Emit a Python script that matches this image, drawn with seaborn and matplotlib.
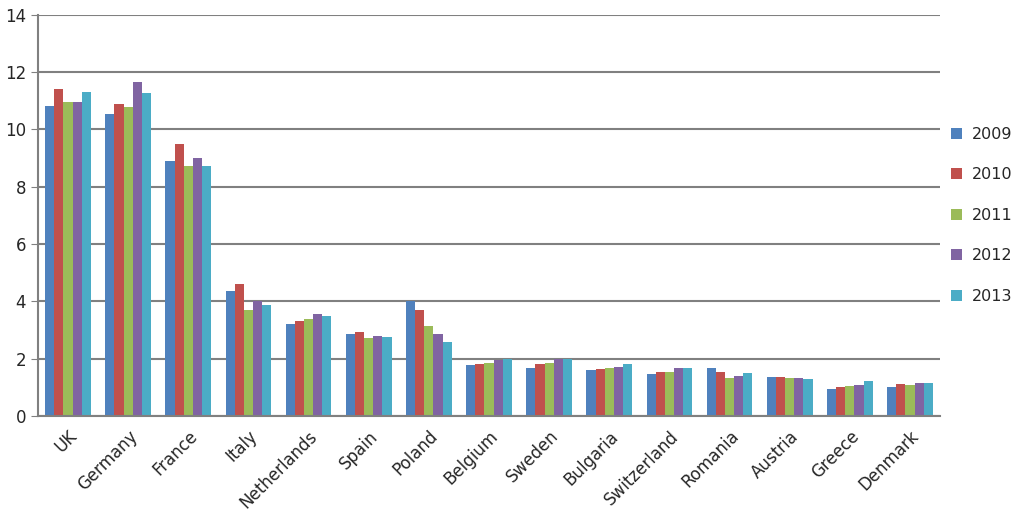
import numpy as np
import pandas as pd
import matplotlib
matplotlib.use('Agg')
import matplotlib.pyplot as plt
import seaborn as sns

countries = ['UK', 'Germany', 'France', 'Italy', 'Netherlands', 'Spain', 'Poland', 'Belgium',
             'Sweden', 'Bulgaria', 'Switzerland', 'Romania', 'Austria', 'Greece', 'Denmark']
years = ['2009', '2010', '2011', '2012', '2013']
v2009 = [10.83, 10.53, 8.91, 4.37, 3.22, 2.87, 4.02, 1.78, 1.66, 1.59, 1.47, 1.67, 1.35, 0.93, 1.02]
v2010 = [11.41, 10.88, 9.48, 4.60, 3.33, 2.95, 3.70, 1.81, 1.81, 1.63, 1.53, 1.53, 1.37, 1.01, 1.12]
v2011 = [10.97, 10.77, 8.72, 3.70, 3.38, 2.72, 3.15, 1.84, 1.84, 1.66, 1.53, 1.34, 1.33, 1.05, 1.09]
v2012 = [10.97, 11.65, 9.02, 4.02, 3.56, 2.79, 2.88, 1.97, 1.99, 1.70, 1.69, 1.41, 1.33, 1.10, 1.17]
v2013 = [11.29, 11.26, 8.73, 3.87, 3.49, 2.76, 2.60, 1.99, 1.99, 1.81, 1.69, 1.51, 1.31, 1.22, 1.15]
colors = ['#4F81BD', '#C0504D', '#9BBB59', '#8064A2', '#4BACC6']

df = pd.DataFrame({'country': countries, '2009': v2009, '2010': v2010, '2011': v2011,
                   '2012': v2012, '2013': v2013})
long = df.melt(id_vars='country', var_name='year', value_name='value')

sns.set_style('white')
plt.rcParams['font.family'] = ['DejaVu Sans']
fig, ax = plt.subplots(figsize=(10.24, 5.28), dpi=100)
fig.subplots_adjust(left=0.037, right=0.918, top=0.972, bottom=0.212)
sns.barplot(data=long, x='country', y='value', hue='year', hue_order=years,
            palette=colors, width=0.76, ax=ax, saturation=1, linewidth=0)

ax.set_ylim(0, 14)
ax.set_yticks(range(0, 15, 2))
ax.set_xlim(-0.5, len(countries) - 0.5)
ax.yaxis.grid(True, color='#808080', linewidth=1.5)
ax.set_axisbelow(True)
for s in ['top', 'right']:
    ax.spines[s].set_visible(False)
for s in ['left', 'bottom']:
    ax.spines[s].set_color('#808080')
    ax.spines[s].set_linewidth(1.5)
ax.set_xlabel('')
ax.set_ylabel('')
ax.set_xticks(np.arange(len(countries)))
ax.set_xticklabels(countries, rotation=45, ha='right', rotation_mode='anchor', fontsize=12)
ax.tick_params(axis='x', length=0, pad=8)
ax.set_xticks(np.arange(len(countries) + 1) - 0.5, minor=True)
ax.tick_params(axis='x', which='minor', length=6, color='#808080', width=1.2, direction='out')
ax.tick_params(axis='y', labelsize=12, length=5, color='#808080', direction='out', left=True)

ax.legend(loc='center left', bbox_to_anchor=(1.0, 0.5), frameon=False, fontsize=11.5,
          handlelength=0.7, handleheight=0.7, handletextpad=0.6, labelspacing=1.6,
          borderaxespad=0.5, borderpad=0.2)
fig.savefig('out.png', dpi=100)
